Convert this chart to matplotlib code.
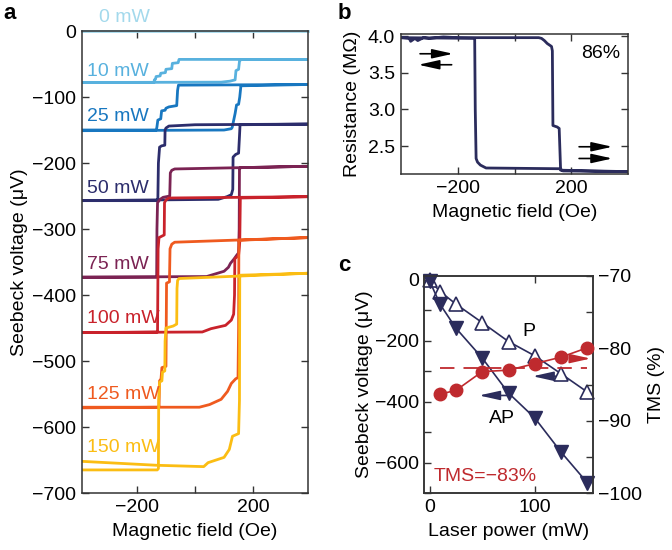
import matplotlib
matplotlib.use("Agg")
import matplotlib.pyplot as plt
from matplotlib.ticker import FormatStrFormatter

plt.rcParams['font.family'] = ['Liberation Sans', 'DejaVu Sans']
plt.rcParams['font.size'] = 14
plt.rcParams['axes.linewidth'] = 1.1
plt.rcParams['axes.edgecolor'] = '#333333'

# ---- panel a: Seebeck voltage loops (field in Oe, voltage in uV) ----
power_labels = ['0 mW', '10 mW', '25 mW', '50 mW', '75 mW', '100 mW', '125 mW', '150 mW']
power_colors = ['#a3d9ec', '#58b1de', '#1877c0', '#2c2d6c', '#7b2353', '#c9222b', '#ef5a1f', '#fbbd13']
label_volt = [20, -61, -130, -238, -354, -436, -550, -631]

field_0 = [-390, 390]
volt_0 = [0, 0]

field_10 = [-390, 90, 120, 138, 141, 150, 153, 158, 390,
            390, -55, -58, -78, -80, -100, -102, -118, -120, -134, -136, -140, -141, -390]
volt_10 = [-78, -77.5, -76, -74, -60, -58, -46, -43, -43,
           -43, -43, -48, -49, -57, -58, -63, -64, -68, -69, -73, -74, -78, -78]

field_25 = [-390, 100, 125, 128, 138, 143, 150, 154, 158, 390,
            390, -57, -60, -63, -90, -100, -103, -115, -118, -128, -131, -133, -390]
volt_25 = [-151, -150, -148, -146, -125, -112, -111, -100, -83, -81,
           -81, -82, -90, -113, -115, -117, -120, -121, -133, -135, -145, -150, -150]

field_50 = [-390, 80, 110, 125, 130, 131, 140, 150, 153, 155, 390,
            390, 0, -90, -100, -103, -104, -115, -122, -126, -128, -390]
volt_50 = [-257, -255, -251, -248, -240, -191, -187, -185, -160, -142, -141,
           -141, -142, -144, -147, -150, -173, -174, -176, -200, -257, -257]

field_75 = [-390, 40, 100, 115, 122, 135, 143, 150, 152, 153, 156, 390,
            390, -70, -80, -85, -87, -110, -120, -129, -131, -132, -390]
volt_75 = [-373, -372, -364, -358, -352, -345, -340, -336, -300, -210, -207, -205,
           -205, -209, -211, -215, -250, -252, -255, -260, -300, -373, -373]

field_100 = [-390, 25, 55, 105, 125, 133, 136, 137, 150, 154, 156, 390,
             390, -90, -100, -105, -106, -115, -124, -127, -129, -390]
volt_100 = [-457, -456, -451, -446, -438, -429, -400, -345, -340, -320, -253, -251,
            -251, -253, -256, -260, -309, -311, -313, -330, -456, -457]

field_125 = [-390, 15, 50, 90, 112, 125, 140, 148, 150, 151, 390,
             390, -70, -80, -86, -88, -98, -100, -114, -117, -122, -124, -390]
volt_125 = [-570, -570, -566, -558, -546, -534, -527, -525, -450, -317, -313,
            -313, -320, -323, -330, -380, -382, -508, -510, -527, -530, -570, -571]

field_150 = [-390, -130, 30, 45, 100, 118, 129, 150, 153, 154, 390,
             390, -55, -60, -62, -63, -75, -100, -103, -104, -112, -114, -122, -125, -126, -130, -390]
volt_150 = [-652, -658, -660, -654, -646, -634, -614, -610, -560, -370, -367,
            -367, -375, -378, -390, -444, -447, -450, -470, -515, -517, -530, -532, -560, -663, -665, -665]

loops_field = [field_0, field_10, field_25, field_50, field_75, field_100, field_125, field_150]
loops_volt = [volt_0, volt_10, volt_25, volt_50, volt_75, volt_100, volt_125, volt_150]

# ---- panel b: resistance loop ----
res_field = [-400, -370, -365, -350, -340, -320, -300, -250, -200, 0, 85, 95, 105, 115, 130, 133, 135, 150, 157, 160, 162, 400,
             400, 170, 160, -100, -120, -130, -135, -138, -140, -400]
res_mohm = [3.98, 3.97, 3.93, 3.97, 3.94, 3.98, 3.97, 3.99, 3.98, 3.98, 3.98, 3.97, 3.94, 3.90, 3.86, 3.80, 2.78, 2.76, 2.74, 2.40, 2.17, 2.15,
            2.15, 2.16, 2.19, 2.20, 2.24, 2.28, 2.33, 3.00, 3.97, 3.98]

# ---- panel c: Seebeck voltage vs laser power ----
laser_power = [0, 10, 25, 50, 75, 100, 125, 150]
seebeck_p = [0, -38, -79, -140, -202, -249, -308, -368]
seebeck_ap = [-3, -80, -158, -256, -371, -453, -565, -666]
tms_power = [10, 25, 50, 75, 100, 125, 150]
tms_percent = [-86.3, -85.8, -83.2, -83.0, -82.1, -81.2, -79.9]
tms_mean = -82.7

navy = '#2b2c5c'
red = '#bf2a2e'

fig = plt.figure(figsize=(6.72, 5.5), dpi=100)


def style_ticks(ax):
    ax.tick_params(direction='in', length=5, width=1, top=True, right=True, pad=4,
                   color='#333333')


def arrow(color):
    return dict(arrowstyle='-|>,head_length=0.9,head_width=0.2', color=color, lw=1.2,
                shrinkA=0, shrinkB=0)


# panel a
ax_a = fig.add_axes([0.1216, 0.1036, 0.3372, 0.840])
for f, v, c in zip(loops_field, loops_volt, power_colors):
    ax_a.plot(f, v, color=c, lw=2.0, solid_joinstyle='round', clip_on=(c != power_colors[0]))
for lab, c, y in zip(power_labels, power_colors, label_volt):
    x0 = -330 if lab == '0 mW' else -372
    ax_a.text(x0, y, lab, color=c, ha='left', va='center', fontsize=14, clip_on=False)
ax_a.set_xlim(-390, 390)
ax_a.set_ylim(-700, 0)
ax_a.set_xticks([-200, 0, 200])
ax_a.set_xticklabels(['\u2212200', '', '200'])
ax_a.set_yticks(range(-700, 1, 100))
style_ticks(ax_a)
ax_a.set_xlabel('Magnetic field (Oe)', fontsize=14, labelpad=5)
ax_a.set_ylabel('Seebeck voltage (\u03bcV)', fontsize=14, labelpad=3)
fig.text(0.005, 0.975, 'a', fontsize=16, fontweight='bold', va='center')

# panel b
ax_b = fig.add_axes([0.5963, 0.6831, 0.3387, 0.2551])
ax_b.plot(res_field, res_mohm, color=navy, lw=2.0)
ax_b.set_xlim(-400, 400)
ax_b.set_ylim(2.114, 4.03)
ax_b.set_xticks([-200, 0, 200])
ax_b.set_xticklabels(['\u2212200', '', '200'])
ax_b.set_yticks([2.5, 3.0, 3.5, 4.0])
ax_b.yaxis.set_major_formatter(FormatStrFormatter('%.1f'))
style_ticks(ax_b)
ax_b.set_xlabel('Magnetic field (Oe)', fontsize=14, labelpad=5)
ax_b.set_ylabel('Resistance (M\u03a9)', fontsize=14, labelpad=5)
ax_b.text(303, 3.76, '86%', ha='center', va='center', fontsize=14)
ax_b.annotate('', xy=(-216, 3.76), xytext=(-332, 3.76), arrowprops=arrow('black'))
ax_b.annotate('', xy=(-338, 3.61), xytext=(-221, 3.61), arrowprops=arrow('black'))
ax_b.annotate('', xy=(344, 2.49), xytext=(227, 2.49), arrowprops=arrow('black'))
ax_b.annotate('', xy=(344, 2.33), xytext=(227, 2.33), arrowprops=arrow('black'))
fig.text(0.503, 0.975, 'b', fontsize=16, fontweight='bold', va='center')

# panel c
ax_c = fig.add_axes([0.6314, 0.1031, 0.2506, 0.3951])
ax_c.plot(laser_power, seebeck_p, color=navy, lw=1.2, marker='^', ms=10,
          mfc='white', mec=navy, mew=1.2, clip_on=False, zorder=3)
ax_c.plot(laser_power, seebeck_ap, color=navy, lw=1.2, marker='v', ms=10,
          mfc=navy, mec=navy, clip_on=False, zorder=3)
ax_c.set_xlim(-5, 155)
ax_c.set_ylim(-698, 13)
ax_c.set_xticks([0, 100])
ax_c.set_yticks([0, -200, -400, -600])
ax_c.set_yticks([-100, -300, -500, -700], minor=True)
ax_c.set_yticklabels(['0', '\u2212200', '\u2212400', '\u2212600'])
ax_c.tick_params(direction='in', length=5, width=1, top=True, pad=4, color='#333333')
ax_c.tick_params(which='minor', direction='in', length=5, width=1, color='#333333')
ax_c.set_xlabel('Laser power (mW)', fontsize=14, labelpad=5)
ax_c.set_ylabel('Seebeck voltage (\u03bcV)', fontsize=14, labelpad=1)
ax_c.text(94, -169, 'P', fontsize=14, ha='center', va='center')
ax_c.text(69, -453, 'AP', fontsize=14, ha='center', va='center')
ax_c.text(4, -645, 'TMS=\u221283%', fontsize=14, color=red, ha='left', va='center')
ax_c.annotate('', xy=(98, -316), xytext=(120, -316), arrowprops=arrow(navy))
ax_c.annotate('', xy=(47, -379), xytext=(75, -379), arrowprops=arrow(navy))

ax_t = ax_c.twinx()
ax_t.plot(tms_power, tms_percent, color=red, lw=1.2, marker='o', ms=9, clip_on=False, zorder=3)
ax_t.hlines(tms_mean, tms_power[0], tms_power[-1], color=red, lw=1.3, linestyles=(0, (8, 5)))
ax_t.set_ylim(-100, -70)
ax_t.set_yticks([-100, -90, -80, -70])
ax_t.set_yticks([-95, -85, -75], minor=True)
ax_t.set_yticklabels(['\u2212100', '\u221290', '\u221280', '\u221270'])
ax_t.tick_params(direction='in', length=5, width=1, pad=4, color='#333333')
ax_t.tick_params(which='minor', direction='in', length=5, width=1, color='#333333')
ax_t.set_ylabel('TMS (%)', fontsize=14, labelpad=4)
ax_t.annotate('', xy=(153, -81.4), xytext=(139, -81.4), arrowprops=arrow(red))
fig.text(0.503, 0.518, 'c', fontsize=16, fontweight='bold', va='center')

fig.savefig('out.png', dpi=100)
